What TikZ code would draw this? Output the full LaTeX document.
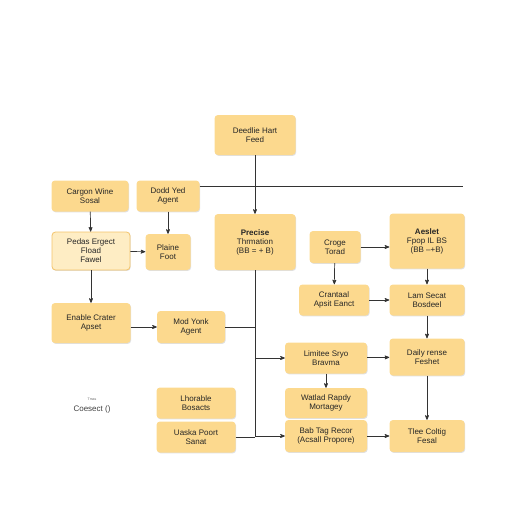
\documentclass[tikz,border=0pt]{standalone}
\usepackage{fontspec}
\setmainfont{Liberation Sans}
\usetikzlibrary{positioning, arrows, shadows}
\definecolor{cardfill}{HTML}{FCD98E}
\definecolor{cardlite}{HTML}{FEEDC4}
\definecolor{cardedge}{HTML}{F3C36A}
\definecolor{wire}{HTML}{333333}
\tikzset{
  ->,
  >=stealth',
  x=1pt, y=-1pt,
  every node/.style={font=\fontsize{8}{9}\selectfont, align=center, text=black!85},
  card/.style={fill=cardfill, rounded corners=3.5pt, inner sep=1pt,
    drop shadow={shadow xshift=0.7pt, shadow yshift=-0.9pt, fill=black, opacity=0.12}},
  litecard/.style={card, fill=cardlite, draw=cardedge, line width=0.8pt},
  wire/.style={draw=wire, line width=0.7pt},
}
\begin{document}
\begin{tikzpicture}
  \useasboundingbox (0,0) rectangle (512,512);
  % top
  \node[card, minimum width=81, minimum height=40] (deed) at (255,135) {Deedlie Hart\\Feed};
  % left column
  \node[card, minimum width=77, minimum height=31] (cargon) at (90,196) {Cargon Wine\\Sosal};
  \node[card, minimum width=63, minimum height=31] (dodd) at (168,196) {Dodd Yed\\Agent};
  \node[litecard, minimum width=78, minimum height=38] (pedas) at (91,251) {Pedas Ergect\\Fload\\Fawel};
  \node[card, minimum width=45, minimum height=36] (plaine) at (168,252) {Plaine\\Foot};
  \node[card, minimum width=79, minimum height=40] (enable) at (91,323) {Enable Crater\\Apset};
  \node[card, minimum width=68, minimum height=32] (mod) at (191,327) {Mod Yonk\\Agent};
  \node[card, minimum width=79, minimum height=31] (lhor) at (196,403) {Lhorable\\Bosacts};
  \node[card, minimum width=79, minimum height=31] (uaska) at (196,437) {Uaska Poort\\Sanat};
  % middle
  \node[card, minimum width=81, minimum height=56] (precise) at (255,242) {\textbf{Precise}\\Thrmation\\(BB = + B)};
  % right block
  \node[card, minimum width=51, minimum height=32] (croge) at (335,247) {Croge\\Torad};
  \node[card, minimum width=75, minimum height=55] (aeslet) at (427,241) {\textbf{Aeslet}\\Fpop IL BS\\(BB --+B)};
  \node[card, minimum width=70, minimum height=31] (crant) at (334,300) {Crantaal\\Apsit Eanct};
  \node[card, minimum width=75, minimum height=31] (lam) at (427,300) {Lam Secat\\Bosdeel};
  \node[card, minimum width=82, minimum height=31] (limitee) at (326,358) {Limitee Sryo\\Bravma};
  \node[card, minimum width=75, minimum height=37] (daily) at (427,357) {Daily rense\\Feshet};
  \node[card, minimum width=82, minimum height=30] (watlad) at (326,403) {Watlad Rapdy\\Mortagey};
  \node[card, minimum width=82, minimum height=32] (bab) at (326,436) {Bab Tag Recor\\(Acsall Propore)};
  \node[card, minimum width=75, minimum height=32] (tlee) at (427,436) {Tlee Coltig\\Fesal};
  % loose label
  \node[font=\fontsize{3.5}{3.5}\selectfont, text=black!60] (tmas) at (92,399) {Tmas};
  \node[text=black!75] (coesect) at (92,409) {Coesect ()};

  % connectors
  \coordinate (hl) at (463,186);
  \draw[wire] (deed.south) -- (precise.north);
  \draw[wire, -] (dodd.east |- hl) -- (hl);
  \draw[wire] (cargon) -- (pedas);
  \draw[wire] (dodd) -- (plaine);
  \draw[wire] (pedas) -- (plaine);
  \draw[wire] (pedas) -- (enable);
  \draw[wire] (mod.west -| enable.east) -- (mod.west);
  \draw[wire, -] (precise.south) -- (precise.south |- bab.west);
  \draw[wire, -] (mod.east) -- (mod.east -| precise.south);
  \draw[wire, -] (uaska.east) -- (uaska.east -| precise.south);
  \draw[wire] (precise.south |- limitee.west) -- (limitee.west);
  \draw[wire] (precise.south |- bab.west) -- (bab.west);
  \draw[wire] (croge.east) -- (croge.east -| aeslet.west);
  \draw[wire] (croge) -- (crant);
  \draw[wire] (aeslet) -- (lam);
  \draw[wire] (crant) -- (lam);
  \draw[wire] (lam) -- (daily);
  \draw[wire] (limitee) -- (daily);
  \draw[wire] (limitee) -- (watlad);
  \draw[wire] (bab) -- (tlee);
  \draw[wire] (daily) -- (tlee);
\end{tikzpicture}
\end{document}
